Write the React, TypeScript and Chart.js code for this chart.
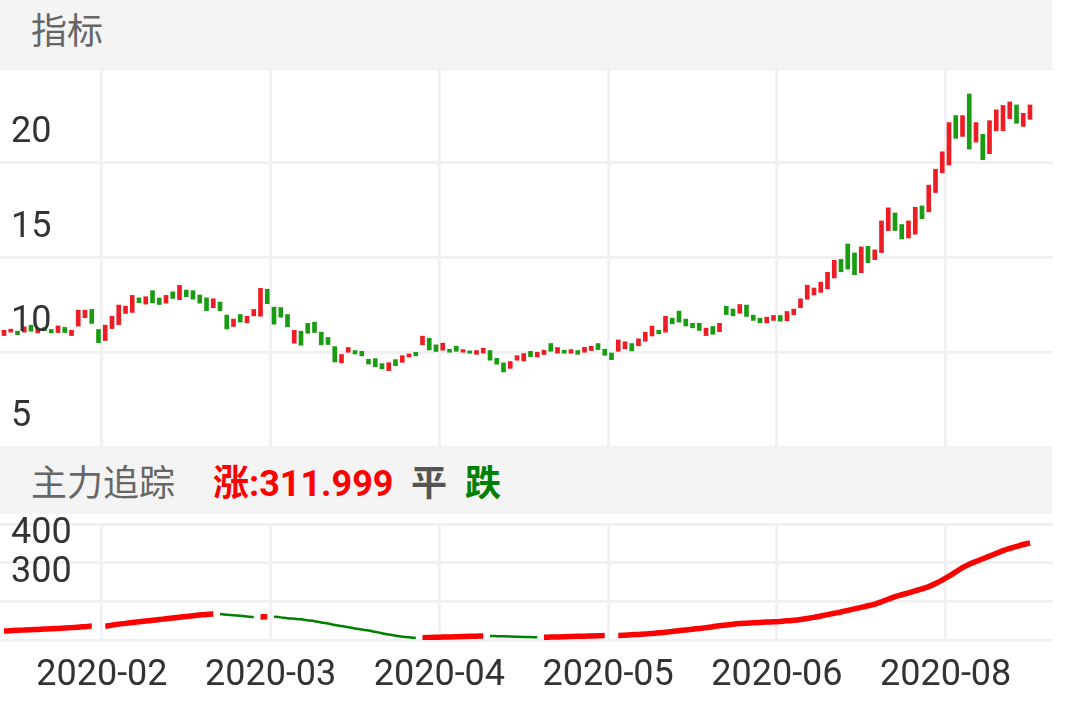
import React, { useEffect, useRef } from 'react';
import { Chart, registerables } from 'chart.js';

Chart.register(...registerables);

// ---- data ----
const candleOpen: number[] = [
  10.88, 11.06, 11.11, 11.06, 11.43, 11.02, 11.30, 11.20, 11.04, 11.31,
  10.88, 11.38, 11.82, 12.26, 11.20, 10.62, 11.25, 11.46, 12.05, 12.10,
  12.87, 12.54, 13.25, 12.86, 12.59, 13.19, 12.77, 13.28, 13.25, 13.02,
  12.87, 12.35, 12.65, 11.96, 11.36, 11.99, 11.55, 11.92, 11.90, 13.32,
  12.38, 12.36, 11.99, 10.48, 11.11, 11.52, 11.59, 11.06, 10.78, 10.30,
  9.44, 10.00, 10.09, 10.05, 9.63, 9.66, 9.40, 9.03, 9.61, 9.47,
  9.75, 10.00, 10.39, 10.74, 10.39, 10.11, 10.16, 10.32, 10.00, 10.07,
  9.89, 9.96, 10.09, 9.68, 9.44, 9.15, 9.58, 9.54, 10.05, 9.75,
  9.88, 10.46, 9.95, 10.11, 9.95, 10.09, 10.00, 10.09, 10.46, 10.16,
  9.96, 10.05, 10.18, 10.46, 10.34, 10.58, 10.86, 11.16, 11.06, 11.80,
  12.17, 11.75, 11.53, 11.53, 10.88, 11.36, 11.09, 12.43, 12.28, 12.06,
  12.49, 11.96, 11.80, 11.55, 11.68, 11.94, 11.66, 11.98, 12.35, 12.80,
  13.02, 13.16, 13.35, 13.92, 14.90, 15.71, 15.24, 14.20, 15.59, 14.89,
  15.26, 16.42, 17.35, 16.74, 16.03, 16.23, 17.72, 17.41, 18.43, 19.47,
  19.88, 22.49, 21.39, 23.63, 21.09, 21.50, 20.48, 21.69, 21.69, 22.33,
  23.05, 21.92, 22.29,
];
const candleClose: number[] = [
  11.16, 11.22, 10.93, 11.34, 11.11, 11.25, 11.13, 11.02, 11.39, 11.04,
  11.16, 12.22, 12.22, 11.52, 10.51, 11.43, 11.90, 12.49, 12.43, 13.00,
  12.61, 12.93, 12.61, 12.52, 13.00, 12.84, 13.53, 12.93, 12.80, 12.59,
  12.19, 12.82, 12.19, 11.23, 11.75, 11.59, 11.90, 12.26, 13.37, 12.56,
  11.48, 11.85, 11.34, 11.16, 10.37, 11.00, 11.04, 10.39, 10.41, 9.49,
  9.88, 10.25, 9.91, 9.81, 9.38, 9.24, 9.12, 9.45, 9.29, 9.82,
  9.91, 9.81, 10.85, 10.12, 10.04, 10.48, 10.00, 10.05, 10.14, 9.95,
  10.09, 10.21, 9.58, 9.37, 8.96, 9.51, 9.82, 9.93, 9.77, 10.00,
  10.11, 10.05, 10.25, 9.95, 10.14, 9.89, 10.26, 10.32, 10.14, 9.84,
  9.61, 10.65, 10.55, 10.07, 10.71, 11.06, 11.38, 10.97, 11.90, 11.50,
  11.59, 11.39, 11.29, 11.15, 11.27, 10.95, 11.53, 11.99, 11.92, 12.52,
  11.89, 11.68, 11.55, 11.85, 11.94, 11.64, 12.15, 12.28, 12.82, 13.54,
  13.39, 13.70, 14.22, 14.85, 14.25, 14.39, 14.09, 15.56, 14.73, 15.40,
  16.93, 17.62, 16.42, 15.98, 16.93, 17.65, 17.05, 18.82, 19.66, 20.58,
  22.12, 21.29, 22.49, 20.72, 22.12, 20.16, 22.22, 22.79, 23.02, 23.21,
  22.08, 22.61, 23.05,
];
const trackValues: number[] = [
  123, 124, 125, 125.8, 126.6, 127.4, 128.2, 129, 130, 131,
  132, 133, 134.5, 136, 136, 136, 138.5, 141, 143, 145,
  147, 149, 151, 153, 155, 157, 159, 161, 163, 164.5,
  166, 167, 167, 165.5, 164, 162.5, 161, 159.5, 159.5, 160.3,
  160.3, 158.5, 156.5, 155, 153.5, 151, 148.5, 145.5, 142.5, 139,
  136, 133, 130, 127, 124.5, 121, 117.5, 114, 111, 108.5,
  107, 106, 106, 106.5, 107, 107.5, 108, 108.5, 109, 109.5,
  110, 110.5, 110.5, 110, 109.5, 109, 108.5, 108, 107.5, 107,
  107, 107.5, 108, 108.5, 109, 109.5, 110, 110.5, 111, 111.5,
  111.5, 111.5, 112.5, 113.5, 114.5, 115.5, 117, 118.5, 120, 122,
  124, 126, 128, 130, 132, 134.5, 137, 139, 141, 142.5,
  143.5, 144.5, 145.5, 146.5, 147, 148, 149.5, 151, 153, 155.5,
  158.5, 162, 165.5, 169, 172.5, 176.5, 180.5, 184.5, 188.5, 193,
  199, 205.5, 212, 217, 222, 227, 232, 238, 246, 255,
  265, 276, 287, 296, 303, 310, 317, 324, 331, 337,
  342, 347, 351,
];
const monthTickIndex: number[] = [14.5, 39.5, 64.5, 89.5, 114.5, 139.5];
const monthLabels: string[] = ['2020-02', '2020-03', '2020-04', '2020-05', '2020-06', '2020-08'];
const priceGrid: number[] = [5, 10, 15, 20, 25];
const priceLabels: number[] = [5, 10, 15, 20];
const trackGrid: number[] = [100, 200, 300, 400];
const trackLabels: number[] = [300, 400];
const topTitle = '指标';
const bottomTitle = '主力追踪';
const riseText = '涨:311.999';
const flatText = '平';
const fallText = '跌';

// ---- styles ----
const FONT = "Roboto, 'Noto Sans CJK SC', sans-serif";
const CANDLE_UP = '#ee1c24';
const CANDLE_DOWN = '#1a9c12';
const LINE_UP = '#ff0000';
const LINE_DOWN = '#008000';
const GRID = '#f1f1f3';
const HEADER_BG = '#f4f4f4';
const PLOT_W = 1053;
const X_MIN = -0.5926;
const X_MAX = 155.407;

function xScale(showLabels: boolean): any {
  return {
    type: 'linear',
    min: X_MIN,
    max: X_MAX,
    offset: false,
    afterBuildTicks: (s: any) => {
      s.ticks = monthTickIndex.map((v) => ({ value: v }));
    },
    grid: { color: GRID, lineWidth: 3, drawTicks: false, offset: false },
    border: { display: false },
    ticks: showLabels
      ? {
          display: true,
          autoSkip: false,
          maxRotation: 0,
          minRotation: 0,
          padding: 17.5,
          color: '#333',
          font: { family: FONT, size: 36, lineHeight: 1 },
          callback: (v: number) => {
            const k = monthTickIndex.indexOf(v);
            return k >= 0 ? monthLabels[k] : '';
          },
        }
      : { display: false },
  };
}

function yScale(min: number, max: number, grid: number[], labels: number[], offset: number): any {
  return {
    min,
    max,
    afterFit: (s: any) => {
      s.width = 0;
      s.paddingTop = 0;
      s.paddingBottom = 0;
    },
    afterBuildTicks: (s: any) => {
      s.ticks = grid.map((v) => ({ value: v }));
    },
    grid: { color: GRID, lineWidth: 3, drawTicks: false },
    border: { display: false },
    ticks: {
      mirror: true,
      padding: 11,
      labelOffset: offset,
      z: 1,
      autoSkip: false,
      color: '#333',
      font: { family: FONT, size: 36 },
      callback: (v: number) => (labels.includes(v) ? String(v) : ''),
    },
  };
}

export default function App() {
  const topRef = useRef<HTMLCanvasElement>(null);
  const bottomRef = useRef<HTMLCanvasElement>(null);

  useEffect(() => {
    const candles = new Chart(topRef.current as HTMLCanvasElement, {
      type: 'bar',
      data: {
        datasets: [
          {
            data: candleOpen.map((o, i) => ({ x: i, y: [o, candleClose[i]] })) as any,
            backgroundColor: candleOpen.map((o, i) => (candleClose[i] >= o ? CANDLE_UP : CANDLE_DOWN)),
            barThickness: 4,
            borderWidth: 0,
          },
        ],
      },
      options: {
        animation: false,
        responsive: false,
        events: [],
        layout: { padding: 0, autoPadding: false },
        plugins: { legend: { display: false }, tooltip: { enabled: false } },
        scales: {
          x: xScale(false),
          y: yScale(5, 25, priceGrid, priceLabels, -30),
        },
      } as any,
    });

    const dir = (ctx: any) => ctx.p1.parsed.y - ctx.p0.parsed.y;
    const track = new Chart(bottomRef.current as HTMLCanvasElement, {
      type: 'line',
      data: {
        datasets: [
          {
            data: trackValues.map((v, i) => ({ x: i, y: v })) as any,
            pointRadius: 0,
            fill: false,
            borderColor: LINE_UP,
            borderWidth: 5.5,
            cubicInterpolationMode: 'monotone',
            segment: {
              borderColor: (ctx: any) =>
                dir(ctx) > 0 ? LINE_UP : dir(ctx) < 0 ? LINE_DOWN : 'rgba(0,0,0,0)',
              borderWidth: (ctx: any) => (dir(ctx) > 0 ? 5.5 : 2.5),
            },
          },
        ],
      },
      options: {
        animation: false,
        responsive: false,
        events: [],
        layout: { padding: { top: 10, bottom: 0, left: 0, right: 0 }, autoPadding: false },
        plugins: { legend: { display: false }, tooltip: { enabled: false } },
        scales: {
          x: xScale(true),
          y: yScale(100, 400, trackGrid, trackLabels, 10),
        },
      } as any,
    });

    return () => {
      candles.destroy();
      track.destroy();
    };
  }, []);

  const headerText: React.CSSProperties = {
    position: 'absolute',
    fontFamily: FONT,
    fontSize: 36,
    lineHeight: '36px',
    whiteSpace: 'nowrap',
  };

  return (
    <div
      style={{
        position: 'fixed',
        left: 0,
        top: 0,
        width: 1065,
        height: 708,
        background: '#fff',
        overflow: 'hidden',
      }}
    >
      <div style={{ position: 'absolute', left: 0, top: 0, width: 1052, height: 68, background: HEADER_BG }}>
        <span style={{ ...headerText, left: 31, top: 14, color: '#666' }}>{topTitle}</span>
      </div>
      <canvas
        ref={topRef}
        width={PLOT_W}
        height={379}
        style={{ position: 'absolute', left: 0, top: 68, width: PLOT_W, height: 379, display: 'block' }}
      />
      <div style={{ position: 'absolute', left: 0, top: 447, width: 1052, height: 67, background: HEADER_BG }}>
        <span style={{ ...headerText, left: 31, top: 19, color: '#666' }}>{bottomTitle}</span>
        <span style={{ ...headerText, left: 213, top: 19, color: '#ff0000', fontWeight: 'bold' }}>{riseText}</span>
        <span style={{ ...headerText, left: 411, top: 19, color: '#555', fontWeight: 'bold' }}>{flatText}</span>
        <span style={{ ...headerText, left: 465, top: 19, color: '#008000', fontWeight: 'bold' }}>{fallText}</span>
      </div>
      <canvas
        ref={bottomRef}
        width={PLOT_W}
        height={197}
        style={{ position: 'absolute', left: 0, top: 514, width: PLOT_W, height: 197, display: 'block' }}
      />
    </div>
  );
}
